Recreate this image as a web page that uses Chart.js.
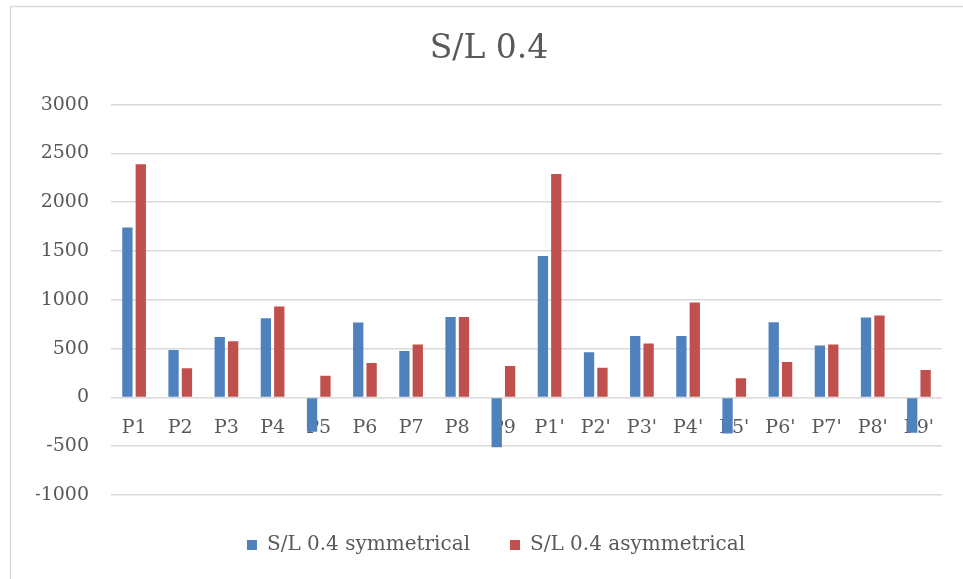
<!DOCTYPE html>
<html>
<head>
<meta charset="utf-8">
<style>
  html, body { margin: 0; padding: 0; background: #ffffff; }
  #wrap { width: 963px; height: 579px; position: relative; }
  canvas { display: block; }
</style>
<script src="https://cdn.jsdelivr.net/npm/chart.js@4.4.1/dist/chart.umd.min.js"></script>
</head>
<body>
<div id="wrap"><canvas id="chart" width="963" height="579"></canvas></div>
<script>
// Categories (points P1..P9 and primed P1'..P9')
const categories = ["P1", "P2", "P3", "P4", "P5", "P6", "P7", "P8", "P9",
                    "P1'", "P2'", "P3'", "P4'", "P5'", "P6'", "P7'", "P8'", "P9'"];

// Series values
const symmetrical  = [1740, 486, 620, 812, -353, 767, 476, 825, -510,
                      1449, 462, 630, 630, -370, 771, 531, 818, -363];
const asymmetrical = [2390, 298, 575, 932, 223, 353, 541, 825, 322,
                      2288, 305, 551, 973, 195, 363, 541, 839, 281];

// Series names and value axis range
const seriesNames = ["S/L 0.4 symmetrical", "S/L 0.4 asymmetrical"];
const chartTitle = "S/L 0.4";
const yMin = -1000, yMax = 3000, yStep = 500;

const FONT = "'DejaVu Serif', 'Liberation Serif', serif";
const TEXT = "#595959";
const GRID = "#d9d9d9";

// Light outer frame of the chart object
const framePlugin = {
  id: 'frame',
  beforeDraw(chart) {
    const ctx = chart.ctx;
    ctx.save();
    ctx.strokeStyle = GRID;
    ctx.lineWidth = 1.3;
    ctx.beginPath();
    ctx.moveTo(10.5, chart.height);
    ctx.lineTo(10.5, 6.5);
    ctx.lineTo(chart.width, 6.5);
    ctx.stroke();
    ctx.restore();
  }
};

// Nudge the legend row a little to the right
const legendShift = {
  id: 'legendShift',
  afterLayout(chart) {
    const lg = chart.legend;
    if (lg) { lg.left += 7; lg.right += 7; }
  }
};

new Chart(document.getElementById('chart'), {
  type: 'bar',
  data: {
    labels: categories,
    datasets: [
      { label: seriesNames[0], data: symmetrical, backgroundColor: '#4F81BD', borderWidth: 0 },
      { label: seriesNames[1], data: asymmetrical, backgroundColor: '#C0504D', borderWidth: 0 }
    ]
  },
  options: {
    responsive: false,
    animation: false,
    devicePixelRatio: 1,
    categoryPercentage: 0.58,
    barPercentage: 0.77,
    layout: { padding: { left: 36, right: 21, top: 0, bottom: 14 } },
    plugins: {
      title: {
        display: true,
        text: chartTitle,
        color: TEXT,
        font: { family: FONT, size: 33, weight: 'normal' },
        padding: { top: 30, bottom: 35 }
      },
      legend: {
        display: true,
        position: 'bottom',
        labels: {
          color: TEXT,
          font: { family: FONT, size: 20 },
          boxWidth: 10,
          boxHeight: 10,
          padding: 40
        }
      },
      tooltip: { enabled: false }
    },
    scales: {
      x: {
        position: { y: 0 },
        z: 1,
        grid: { display: false, drawTicks: false },
        border: { display: false },
        ticks: { color: TEXT, font: { family: FONT, size: 19 }, padding: 19, maxRotation: 0, autoSkip: false }
      },
      y: {
        min: yMin,
        max: yMax,
        grid: { color: GRID, lineWidth: 1.5, drawTicks: false },
        border: { display: false },
        ticks: {
          stepSize: yStep,
          color: TEXT,
          font: { family: FONT, size: 19 },
          padding: 22,
          callback: (v) => String(v)
        },
        afterFit(scale) { scale.width = 75; }
      }
    }
  },
  plugins: [framePlugin, legendShift]
});
</script>
</body>
</html>
